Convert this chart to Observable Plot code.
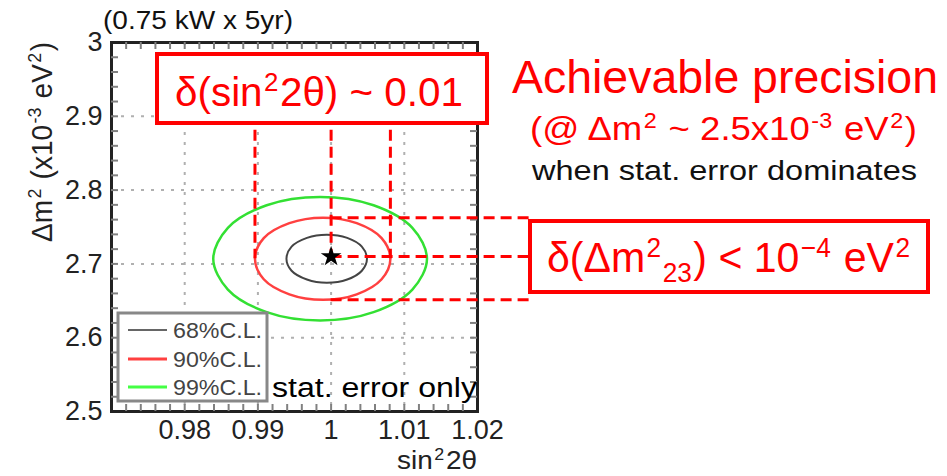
<!DOCTYPE html>
<html><head><meta charset="utf-8">
<script src="https://cdn.jsdelivr.net/npm/d3@7"></script>
<script src="https://cdn.jsdelivr.net/npm/@observablehq/plot@0.6"></script>
<style>html,body{margin:0;padding:0;background:#fff;} svg{display:block}</style>
</head><body><div id="chart"></div>
<script>
// ---- data ----
const xTicks = [0.98, 0.99, 1, 1.01, 1.02];
const xTickLabels = ["0.98", "0.99", "1", "1.01", "1.02"];
const yTicks = [2.5, 2.6, 2.7, 2.8, 2.9, 3];
const yTickLabels = ["2.5", "2.6", "2.7", "2.8", "2.9", "3"];
const xGrid = [0.98, 0.99, 1, 1.01];
const yGrid = [2.6, 2.7, 2.8, 2.9];

const levels = ["68%C.L.", "90%C.L.", "99%C.L."];
const levelColors = ["#444444", "#ff4040", "#33e033"];
const legendColors = ["#666666", "#ff4040", "#44ff44"];

// contour points (sin^2 2θ, Δm^2 in 1e-3 eV^2)
const c68x = [1.0049, 1.0042, 1.0022, 0.9994, 0.9967, 0.9946, 0.9939, 0.9946, 0.9967, 0.9994, 1.0022, 1.0042];
const c68y = [2.707, 2.7233, 2.7352, 2.7396, 2.7352, 2.7233, 2.707, 2.6907, 2.6788, 2.6744, 2.6788, 2.6907];
const c90x = [1.0081, 1.0069, 1.0035, 0.9989, 0.9943, 0.9908, 0.9896, 0.9908, 0.9943, 0.9989, 1.0035, 1.0069];
const c90y = [2.707, 2.7349, 2.7552, 2.7627, 2.7552, 2.7349, 2.707, 2.6792, 2.6588, 2.6513, 2.6588, 2.6792];
const c99x = [1.0131, 1.0111, 1.0058, 0.9985, 0.9912, 0.9859, 0.9839, 0.9859, 0.9912, 0.9985, 1.0058, 1.0111];
const c99y = [2.707, 2.7488, 2.7794, 2.7906, 2.7794, 2.7488, 2.707, 2.6652, 2.6346, 2.6234, 2.6346, 2.6652];

const bestFitX = [1.0];
const bestFitY = [2.71];

// precision guide lines
const guideX = [0.9896, 1.0, 1.0081];       // vertical dashed lines
const guideXTop = [2.881, 2.881, 2.881];
const guideXBottom = [2.707, 2.71, 2.707];
const guideY = [2.7627, 2.71, 2.6513];      // horizontal dashed lines
const guideYStart = [1.0, 1.0, 1.0];
const guideYEnd = [1.0272, 1.0272, 1.0272];

// ---- layout ----
const W = 947, H = 476;
const mL = 111, mR = 470, mT = 42, mB = 65;
const xDom = [0.97, 1.02], yDom = [2.5, 3];
const perPxX = (xDom[1] - xDom[0]) / (W - mL - mR);
const perPxY = (yDom[1] - yDom[0]) / (H - mT - mB);
const tickLen = 7;
const xMinor = d3.range(0, 26).map(i => +(0.97 + i * 0.002).toFixed(4)).filter(v => v > 0.9701 && v < 1.0199);
const yMinor = d3.range(0, 26).map(i => +(2.5 + i * 0.02).toFixed(3)).filter(v => v > 2.501 && v < 2.999);

const contours = [
  {level: levels[0], xs: c68x, ys: c68y},
  {level: levels[1], xs: c90x, ys: c90y},
  {level: levels[2], xs: c99x, ys: c99y}
].map(c => c.xs.map((x, i) => ({level: c.level, x, y: c.ys[i]})));

const xLab = new Map(xTicks.map((v, i) => [v, xTickLabels[i]]));
const yLab = new Map(yTicks.map((v, i) => [v, yTickLabels[i]]));
const dash = "11,6";
const red = "#ff0000";
const gridStyle = {stroke: "#b0b0b0", strokeWidth: 2, strokeDasharray: "3,7"};
const tickStyle = {stroke: "#808080", strokeWidth: 2};

const plot = Plot.plot({
  width: W, height: H,
  marginLeft: mL, marginRight: mR, marginTop: mT, marginBottom: mB,
  x: {domain: xDom},
  y: {domain: yDom},
  style: {fontFamily: "'Liberation Sans', Arial, sans-serif", background: "white", color: "#222"},
  marks: [
    Plot.ruleX(xGrid, {x: d => d, ...gridStyle}),
    Plot.ruleY(yGrid, {y: d => d, ...gridStyle}),
    ...contours.map((c, i) => Plot.line(c, {x: "x", y: "y", stroke: levelColors[i], strokeWidth: i === 0 ? 2 : 2.5, curve: "catmull-rom-closed"})),
    Plot.frame({stroke: "#222", strokeWidth: 3}),
    Plot.ruleX(xMinor, {x: d => d, y1: yDom[0], y2: yDom[0] + tickLen * perPxY, ...tickStyle}),
    Plot.ruleX(xMinor, {x: d => d, y1: yDom[1], y2: yDom[1] - tickLen * perPxY, ...tickStyle}),
    Plot.ruleY(yMinor, {y: d => d, x1: xDom[0], x2: xDom[0] + tickLen * perPxX, ...tickStyle}),
    Plot.ruleY(yMinor, {y: d => d, x1: xDom[1], x2: xDom[1] - tickLen * perPxX, ...tickStyle}),
    Plot.ruleX(guideX.map((x, i) => ({x, y1: guideXTop[i], y2: guideXBottom[i]})),
      {x: "x", y1: "y1", y2: "y2", stroke: red, strokeWidth: 3, strokeDasharray: dash}),
    Plot.ruleY(guideY.map((y, i) => ({y, x1: guideYStart[i], x2: guideYEnd[i]})),
      {y: "y", x1: "x1", x2: "x2", stroke: red, strokeWidth: 3, strokeDasharray: dash}),
    Plot.dot(bestFitX.map((x, i) => ({x, y: bestFitY[i]})), {x: "x", y: "y", symbol: "star", r: 6.5, fill: "#000", stroke: "none"}),
    Plot.axisX({ticks: xTicks, tickSize: 0, tickPadding: 8, tickFormat: d => xLab.get(d) ?? "", label: null, fontSize: 27, anchor: "bottom"}),
    Plot.axisY({ticks: yTicks, tickSize: 0, tickPadding: 9, tickFormat: d => yLab.get(d) ?? "", label: null, fontSize: 27, anchor: "left"})
  ]
});
document.getElementById("chart").appendChild(plot);

// ---- annotations ----
const svg = d3.select(plot);
const ann = svg.append("g").attr("font-family", "'Liberation Sans', Arial, sans-serif");

function rich(parent, {x, y, size, fill, anchor = "start", length, parts, transform}) {
  const t = parent.append("text").attr("x", x).attr("y", y).attr("font-size", size)
    .attr("fill", fill).attr("text-anchor", anchor);
  if (transform) t.attr("transform", transform);
  if (length) t.attr("textLength", length).attr("lengthAdjust", "spacingAndGlyphs");
  let shift = 0, prevScript = false;
  for (const p of parts) {
    const script = !!(p.sup || p.sub);
    const s = p.sup ? -0.36 * size : p.sub ? 0.24 * size : 0;
    const ts = t.append("tspan").text(p.t).attr("dy", s - shift);
    if (script || prevScript) ts.attr("dx", 1.5);
    if (script) ts.attr("font-size", size * 0.64);
    shift = s; prevScript = script;
  }
  return t;
}

// title
rich(ann, {x: 103, y: 29, size: 25, fill: "#111", length: 190, parts: [{t: "(0.75 kW x 5yr)"}]});

// axis titles
rich(ann, {x: 397, y: 469, size: 26, fill: "#222", length: 80, parts: [{t: "sin"}, {t: "2", sup: true}, {t: "2θ"}]});
rich(ann, {x: 0, y: 0, size: 30, fill: "#222", anchor: "middle", length: 200, transform: "translate(52,142) rotate(-90)",
  parts: [{t: "Δm"}, {t: "2", sup: true}, {t: " (x10"}, {t: "-3", sup: true}, {t: " eV"}, {t: "2", sup: true}, {t: ")"}]});

// top box
ann.append("rect").attr("x", 157).attr("y", 54).attr("width", 330).attr("height", 69)
  .attr("fill", "#fff").attr("stroke", red).attr("stroke-width", 4);
rich(ann, {x: 175, y: 106, size: 41, fill: red, length: 288, parts: [{t: "δ(sin"}, {t: "2", sup: true}, {t: "2θ) ~ 0.01"}]});

// right texts
rich(ann, {x: 512, y: 93, size: 46, fill: red, length: 426, parts: [{t: "Achievable precision"}]});
rich(ann, {x: 530, y: 140, size: 34, fill: red, length: 387,
  parts: [{t: "(@ Δm"}, {t: "2", sup: true}, {t: " ~ 2.5x10"}, {t: "-3", sup: true}, {t: " eV"}, {t: "2", sup: true}, {t: ")"}]});
rich(ann, {x: 532, y: 180, size: 27, fill: "#111", length: 385, parts: [{t: "when stat. error dominates"}]});

// bottom-right box
ann.append("rect").attr("x", 530).attr("y", 221).attr("width", 398).attr("height", 71)
  .attr("fill", "#fff").attr("stroke", red).attr("stroke-width", 4);
rich(ann, {x: 547, y: 272, size: 42, fill: red, length: 363,
  parts: [{t: "δ(Δm"}, {t: "2", sup: true}, {t: "23", sub: true}, {t: ") < 10"}, {t: "−4", sup: true}, {t: " eV"}, {t: "2", sup: true}]});

// legend
const lg = ann.append("g");
lg.append("rect").attr("x", 118).attr("y", 313).attr("width", 149).attr("height", 88)
  .attr("fill", "#fff").attr("stroke", "#888").attr("stroke-width", 3);
const rowY = [330, 359, 387];
levels.forEach((lv, i) => {
  lg.append("line").attr("x1", 128).attr("x2", 167).attr("y1", rowY[i]).attr("y2", rowY[i])
    .attr("stroke", legendColors[i]).attr("stroke-width", i === 0 ? 2 : 3);
  rich(lg, {x: 173, y: rowY[i] + 8, size: 22, fill: "#444", length: 89, parts: [{t: lv}]});
});
rich(ann, {x: 272, y: 397, size: 27, fill: "#000", length: 205, parts: [{t: "stat. error only"}]});
</script>
</body></html>
